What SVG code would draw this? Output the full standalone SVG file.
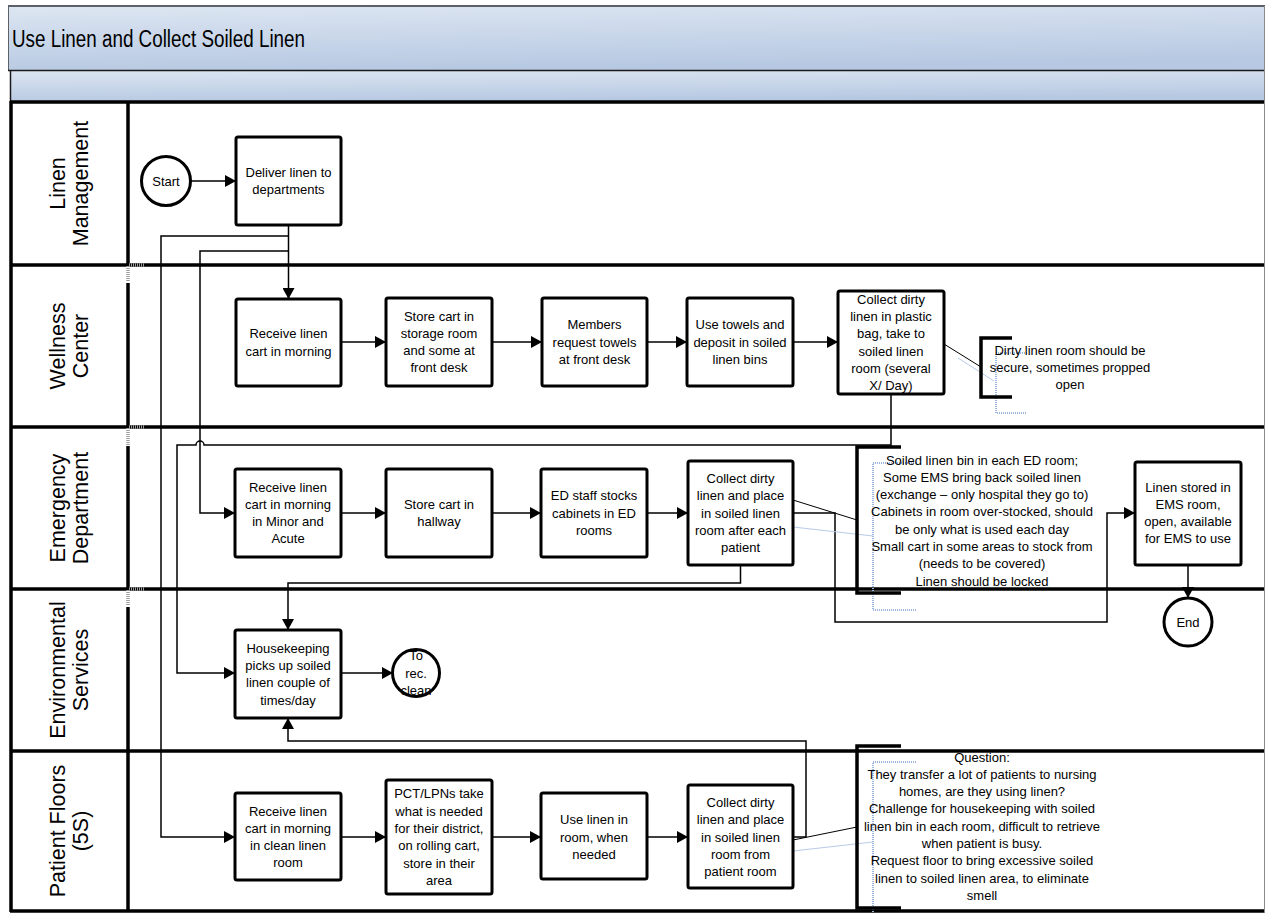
<svg xmlns="http://www.w3.org/2000/svg" width="1265" height="913" viewBox="0 0 1265 913">
<defs>
<linearGradient id="hdr" x1="0" y1="0" x2="0.25" y2="1">
<stop offset="0" stop-color="#dde6f2"/>
<stop offset="1" stop-color="#b7c9e2"/>
</linearGradient>
<marker id="arr" markerUnits="userSpaceOnUse" markerWidth="12" markerHeight="12" refX="11" refY="6" orient="auto">
<path d="M0,0 L11,6 L0,12 z" fill="#000"/>
</marker>
</defs>
<style>
.t{font-family:"Liberation Sans",Arial,sans-serif;font-size:13px;text-anchor:middle;fill:#000}
.lane{font-family:"Liberation Sans",Arial,sans-serif;font-size:21.5px;text-anchor:middle;fill:#000}
.box{fill:#fff;stroke:#000;stroke-width:3}
.circ{fill:#fff;stroke:#000;stroke-width:3}
.sep{stroke:#000;stroke-width:3.5;fill:none}
.c{stroke:#000;stroke-width:1.5;fill:none}
.ca{stroke:#000;stroke-width:1.5;fill:none;marker-end:url(#arr)}
.note{stroke:#000;stroke-width:1;fill:none}
.brk{stroke:#000;stroke-width:3.5;fill:none}
.blue{stroke:#9cb6de;stroke-width:2;fill:none;stroke-dasharray:1 1}
.bluef{stroke:#b8cbe8;stroke-width:1;fill:none}
.gray{stroke:#9a9a9a;stroke-width:3.5;fill:none;stroke-dasharray:1 1}
</style>
<rect x="0" y="0" width="1265" height="913" fill="#fff"/>

<g id="header">
<rect x="8" y="6" width="1257" height="64" fill="url(#hdr)"/>
<line x1="8" y1="6" x2="1265" y2="6" stroke="#5c6168" stroke-width="2"/>
<line x1="8.5" y1="6" x2="8.5" y2="70" stroke="#5c6168" stroke-width="1"/>
<text x="12" y="47" font-family="'Liberation Sans Narrow','Liberation Sans',Arial,sans-serif" font-size="23" textLength="293" lengthAdjust="spacingAndGlyphs">Use Linen and Collect Soiled Linen</text>
<rect x="10" y="70" width="1255" height="31" fill="url(#hdr)"/>
<line x1="8" y1="70.5" x2="1265" y2="70.5" stroke="#1a1a1a" stroke-width="1.5"/>
<line x1="10.5" y1="70" x2="10.5" y2="101" stroke="#1a1a1a" stroke-width="1.5"/>
</g>

<g id="lanes">
<line class="sep" x1="10" y1="102" x2="1265" y2="102"/>
<line class="sep" x1="10" y1="265" x2="1265" y2="265"/>
<line class="sep" x1="10" y1="427" x2="1265" y2="427"/>
<line class="sep" x1="10" y1="589" x2="1265" y2="589"/>
<line class="sep" x1="10" y1="751" x2="1265" y2="751"/>
<line class="sep" x1="10" y1="911" x2="1265" y2="911"/>
<line class="sep" x1="11" y1="101" x2="11" y2="912"/>
<line class="sep" x1="128" y1="101" x2="128" y2="265"/>
<line class="sep" x1="128" y1="283" x2="128" y2="427"/>
<line class="sep" x1="128" y1="446" x2="128" y2="589"/>
<line class="sep" x1="128" y1="607" x2="128" y2="912"/>
<path class="gray" d="M128,266 V282 M128,428 V445 M128,590 V606 M129,265 H145 M129,427 H145 M129,589 H145"/>
<line x1="1264.5" y1="6" x2="1264.5" y2="913" stroke="#8a8a8a" stroke-width="1"/>
<text class="lane" transform="translate(65,183.5) rotate(-90)">Linen</text>
<text class="lane" transform="translate(88,183.5) rotate(-90)">Management</text>
<text class="lane" transform="translate(65,346) rotate(-90)">Wellness</text>
<text class="lane" transform="translate(88,346) rotate(-90)">Center</text>
<text class="lane" transform="translate(65,508) rotate(-90)">Emergency</text>
<text class="lane" transform="translate(88,508) rotate(-90)">Department</text>
<text class="lane" transform="translate(65,670) rotate(-90)">Environmental</text>
<text class="lane" transform="translate(88,670) rotate(-90)">Services</text>
<text class="lane" transform="translate(65,831) rotate(-90)">Patient Floors</text>
<text class="lane" transform="translate(88,831) rotate(-90)">(5S)</text>
</g>

<g id="connectors">
<line class="ca" x1="191" y1="181" x2="236" y2="181"/>
<line class="ca" x1="288.5" y1="225" x2="288.5" y2="299"/>
<path class="ca" d="M288.5,236 H161 V837 H235"/>
<path class="ca" d="M288.5,251 H200 V513 H235"/>
<line class="ca" x1="341" y1="342" x2="386" y2="342"/>
<line class="ca" x1="492" y1="342" x2="542" y2="342"/>
<line class="ca" x1="647" y1="342" x2="687" y2="342"/>
<line class="ca" x1="793" y1="342" x2="838" y2="342"/>
<path class="ca" d="M891,394 V445 H204 A4,4 0 0 0 196,445 H177 V673 H235"/>
<line class="ca" x1="341" y1="513" x2="386" y2="513"/>
<line class="ca" x1="492" y1="513" x2="541" y2="513"/>
<line class="ca" x1="647" y1="513" x2="688" y2="513"/>
<path class="ca" d="M740.5,565 V583 H288 V630"/>
<path class="ca" d="M793,513 H835 V622 H1107 V513 H1135"/>
<line class="ca" x1="1188" y1="565" x2="1188" y2="598"/>
<line class="ca" x1="341" y1="673" x2="393" y2="673"/>
<line class="ca" x1="341" y1="837" x2="386" y2="837"/>
<line class="ca" x1="492" y1="837" x2="541" y2="837"/>
<line class="ca" x1="647" y1="837" x2="688" y2="837"/>
<path class="ca" d="M793,837 H806 V741 H288 V718"/>
<line class="note" x1="944" y1="344" x2="981" y2="367"/>
<line class="note" x1="793" y1="500" x2="857" y2="520"/>
<line class="note" x1="793" y1="840" x2="857" y2="827"/>
<line class="bluef" x1="958" y1="358" x2="994" y2="381"/>
<line class="bluef" x1="793" y1="527" x2="873" y2="536"/>
<line class="bluef" x1="793" y1="851" x2="873" y2="842"/>
</g>

<g id="start">
<circle class="circ" cx="166" cy="181" r="24.5"/>
<text class="t" x="166" y="185.5">Start</text>
</g>
<g id="deliver">
<rect class="box" x="236" y="137" width="105" height="88" rx="2"/>
<text class="t" x="288.5" y="177">Deliver linen to</text>
<text class="t" x="288.5" y="194">departments</text>
</g>

<g id="wc-receive">
<rect class="box" x="236" y="299" width="105" height="87" rx="2"/>
<text class="t" x="288.5" y="338.4">Receive linen</text>
<text class="t" x="288.5" y="355.7">cart in morning</text>
</g>
<g id="wc-store">
<rect class="box" x="386" y="298" width="106" height="88" rx="2"/>
<text class="t" x="439" y="320.5">Store cart in</text>
<text class="t" x="439" y="337.8">storage room</text>
<text class="t" x="439" y="355.1">and some at</text>
<text class="t" x="439" y="372.4">front desk</text>
</g>
<g id="wc-members">
<rect class="box" x="542" y="298" width="105" height="88" rx="2"/>
<text class="t" x="594.5" y="329.2">Members</text>
<text class="t" x="594.5" y="346.5">request towels</text>
<text class="t" x="594.5" y="363.8">at front desk</text>
</g>
<g id="wc-use">
<rect class="box" x="687" y="298" width="106" height="88" rx="2"/>
<text class="t" x="740" y="329.2">Use towels and</text>
<text class="t" x="740" y="346.5">deposit in soiled</text>
<text class="t" x="740" y="363.8">linen bins</text>
</g>
<g id="wc-collect">
<rect class="box" x="838" y="291" width="106" height="103" rx="2"/>
<text class="t" x="891" y="303.8">Collect dirty</text>
<text class="t" x="891" y="321">linen in plastic</text>
<text class="t" x="891" y="338.4">bag, take to</text>
<text class="t" x="891" y="355.7">soiled linen</text>
<text class="t" x="891" y="373">room (several</text>
<text class="t" x="891" y="390.3">X/ Day)</text>
</g>
<g id="wc-note">
<path class="blue" d="M1027,353 H996 V413 H1027"/>
<path class="brk" d="M1012,338 H981 V397 H1012"/>
<text class="t" x="1070" y="354.5">Dirty linen room should be</text>
<text class="t" x="1070" y="371.5">secure, sometimes propped</text>
<text class="t" x="1070" y="388.5">open</text>
</g>

<g id="ed-receive">
<rect class="box" x="235" y="469" width="106" height="88" rx="2"/>
<text class="t" x="288" y="491.5">Receive linen</text>
<text class="t" x="288" y="508.8">cart in morning</text>
<text class="t" x="288" y="526.1">in Minor and</text>
<text class="t" x="288" y="543.4">Acute</text>
</g>
<g id="ed-store">
<rect class="box" x="386" y="469" width="106" height="88" rx="2"/>
<text class="t" x="439" y="509">Store cart in</text>
<text class="t" x="439" y="526.3">hallway</text>
</g>
<g id="ed-stocks">
<rect class="box" x="541" y="469" width="106" height="88" rx="2"/>
<text class="t" x="594" y="500.2">ED staff stocks</text>
<text class="t" x="594" y="517.5">cabinets in ED</text>
<text class="t" x="594" y="534.8">rooms</text>
</g>
<g id="ed-collect">
<rect class="box" x="688" y="461" width="105" height="104" rx="2"/>
<text class="t" x="740.5" y="482.9">Collect dirty</text>
<text class="t" x="740.5" y="500.2">linen and place</text>
<text class="t" x="740.5" y="517.5">in soiled linen</text>
<text class="t" x="740.5" y="534.8">room after each</text>
<text class="t" x="740.5" y="552.1">patient</text>
</g>
<g id="ed-note">
<path class="blue" d="M916,463 H873 V610 H916"/>
<path class="brk" d="M901,447 H857 V593 H901"/>
<text class="t" x="982" y="464.5">Soiled linen bin in each ED room;</text>
<text class="t" x="982" y="481.8">Some EMS bring back soiled linen</text>
<text class="t" x="982" y="499.1">(exchange – only hospital they go to)</text>
<text class="t" x="982" y="516.4">Cabinets in room over-stocked, should</text>
<text class="t" x="982" y="533.7">be only what is used each day</text>
<text class="t" x="982" y="551">Small cart in some areas to stock from</text>
<text class="t" x="982" y="568.3">(needs to be covered)</text>
<text class="t" x="982" y="585.6">Linen should be locked</text>
</g>
<g id="ems">
<rect class="box" x="1135" y="462" width="106" height="103" rx="2"/>
<text class="t" x="1188" y="491.5">Linen stored in</text>
<text class="t" x="1188" y="508.8">EMS room,</text>
<text class="t" x="1188" y="526.1">open, available</text>
<text class="t" x="1188" y="543.4">for EMS to use</text>
</g>
<g id="end">
<circle class="circ" cx="1188" cy="622" r="24"/>
<text class="t" x="1188" y="626.5">End</text>
</g>

<g id="housekeeping">
<rect class="box" x="235" y="630" width="106" height="88" rx="2"/>
<text class="t" x="288" y="652.5">Housekeeping</text>
<text class="t" x="288" y="669.8">picks up soiled</text>
<text class="t" x="288" y="687.2">linen couple of</text>
<text class="t" x="288" y="704.5">times/day</text>
</g>
<g id="to-rec-clean">
<circle class="circ" cx="416" cy="673" r="23.5"/>
<text class="t" x="416" y="660.2">To</text>
<text class="t" x="416" y="677.5">rec.</text>
<text class="t" x="416" y="694.8">clean</text>
</g>

<g id="pf-receive">
<rect class="box" x="235" y="793" width="106" height="87" rx="2"/>
<text class="t" x="288" y="815.5">Receive linen</text>
<text class="t" x="288" y="832.8">cart in morning</text>
<text class="t" x="288" y="850.1">in clean linen</text>
<text class="t" x="288" y="867.4">room</text>
</g>
<g id="pf-pct">
<rect class="box" x="386" y="780" width="106" height="114" rx="2"/>
<text class="t" x="439" y="798.3">PCT/LPNs take</text>
<text class="t" x="439" y="815.6">what is needed</text>
<text class="t" x="439" y="832.9">for their district,</text>
<text class="t" x="439" y="850.2">on rolling cart,</text>
<text class="t" x="439" y="867.5">store in their</text>
<text class="t" x="439" y="884.8">area</text>
</g>
<g id="pf-use">
<rect class="box" x="541" y="793" width="106" height="86" rx="2"/>
<text class="t" x="594" y="824.2">Use linen in</text>
<text class="t" x="594" y="841.5">room, when</text>
<text class="t" x="594" y="858.8">needed</text>
</g>
<g id="pf-collect">
<rect class="box" x="688" y="785" width="105" height="103" rx="2"/>
<text class="t" x="740.5" y="806.9">Collect dirty</text>
<text class="t" x="740.5" y="824.2">linen and place</text>
<text class="t" x="740.5" y="841.5">in soiled linen</text>
<text class="t" x="740.5" y="858.8">room from</text>
<text class="t" x="740.5" y="876.1">patient room</text>
</g>
<g id="pf-note">
<path class="blue" d="M916,762 H873 V913"/>
<path class="brk" d="M901,746 H857 V908 H901"/>
<text class="t" x="982" y="761.5">Question:</text>
<text class="t" x="982" y="778.8">They transfer a lot of patients to nursing</text>
<text class="t" x="982" y="796.1">homes, are they using linen?</text>
<text class="t" x="982" y="813.4">Challenge for housekeeping with soiled</text>
<text class="t" x="982" y="830.7">linen bin in each room, difficult to retrieve</text>
<text class="t" x="982" y="848">when patient is busy.</text>
<text class="t" x="982" y="865.3">Request floor to bring excessive soiled</text>
<text class="t" x="982" y="882.6">linen to soiled linen area, to eliminate</text>
<text class="t" x="982" y="899.9">smell</text>
</g>
</svg>
